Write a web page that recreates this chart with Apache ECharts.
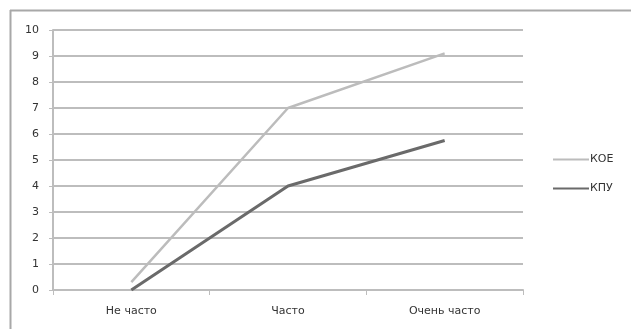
<!DOCTYPE html>
<html><head><meta charset="utf-8">
<script src="https://cdn.jsdelivr.net/npm/echarts@6/dist/echarts.min.js"></script>
<style>html,body{margin:0;padding:0;background:#fff}#c{width:631px;height:329px}</style>
</head><body><div id="c"></div>
<script>
const categories = ['Не часто', 'Часто', 'Очень часто'];
const koe = [0.3, 7, 9.1];
const kpu = [0, 4, 5.75];
const yTicks = [0, 1, 2, 3, 4, 5, 6, 7, 8, 9, 10];

const chart = echarts.init(document.getElementById('c'), null, {renderer: 'canvas'});
const font = 'Verdana, "DejaVu Sans", sans-serif';
chart.setOption({
  animation: false,
  backgroundColor: '#fff',
  graphic: [
    {type: 'line', shape: {x1: 10, y1: 10.5, x2: 631, y2: 10.5}, style: {stroke: '#a8a8a8', lineWidth: 2}},
    {type: 'line', shape: {x1: 10.5, y1: 10, x2: 10.5, y2: 329}, style: {stroke: '#a8a8a8', lineWidth: 2}}
  ],
  grid: {left: 53, top: 30, width: 470, height: 260, containLabel: false},
  legend: {
    orient: 'vertical', left: 548, top: 149, itemGap: 18, itemWidth: 36, itemHeight: 14,
    icon: 'path://M0,6L36,6L36,8L0,8Z',
    textStyle: {fontFamily: font, fontSize: 11, color: '#333', padding: [0, 0, 0, -4]},
    data: [{name: 'КОЕ', itemStyle: {color: '#bcbcbc'}}, {name: 'КПУ', itemStyle: {color: '#6a6a6a'}}]
  },
  xAxis: {
    type: 'category', data: categories, boundaryGap: true,
    axisLine: {lineStyle: {color: '#bdbdbd', width: 2}},
    axisTick: {show: true, length: 5, lineStyle: {color: '#bdbdbd'}},
    axisLabel: {fontFamily: font, fontSize: 11, color: '#333', margin: 16}
  },
  yAxis: {
    type: 'value', min: yTicks[0], max: yTicks[yTicks.length - 1], interval: 1,
    axisLine: {show: true, lineStyle: {color: '#bdbdbd', width: 2}},
    axisTick: {show: true, length: 4, inside: false, lineStyle: {color: '#bdbdbd'}},
    splitLine: {lineStyle: {color: '#bdbdbd', width: 2}},
    axisLabel: {fontFamily: font, fontSize: 11, color: '#333', margin: 14}
  },
  series: [
    {name: 'КОЕ', type: 'line', data: koe, symbol: 'none', lineStyle: {color: '#bcbcbc', width: 2.5}, itemStyle: {color: '#bcbcbc'}},
    {name: 'КПУ', type: 'line', data: kpu, symbol: 'none', lineStyle: {color: '#6a6a6a', width: 3}, itemStyle: {color: '#6a6a6a'}}
  ]
});
</script></body></html>
